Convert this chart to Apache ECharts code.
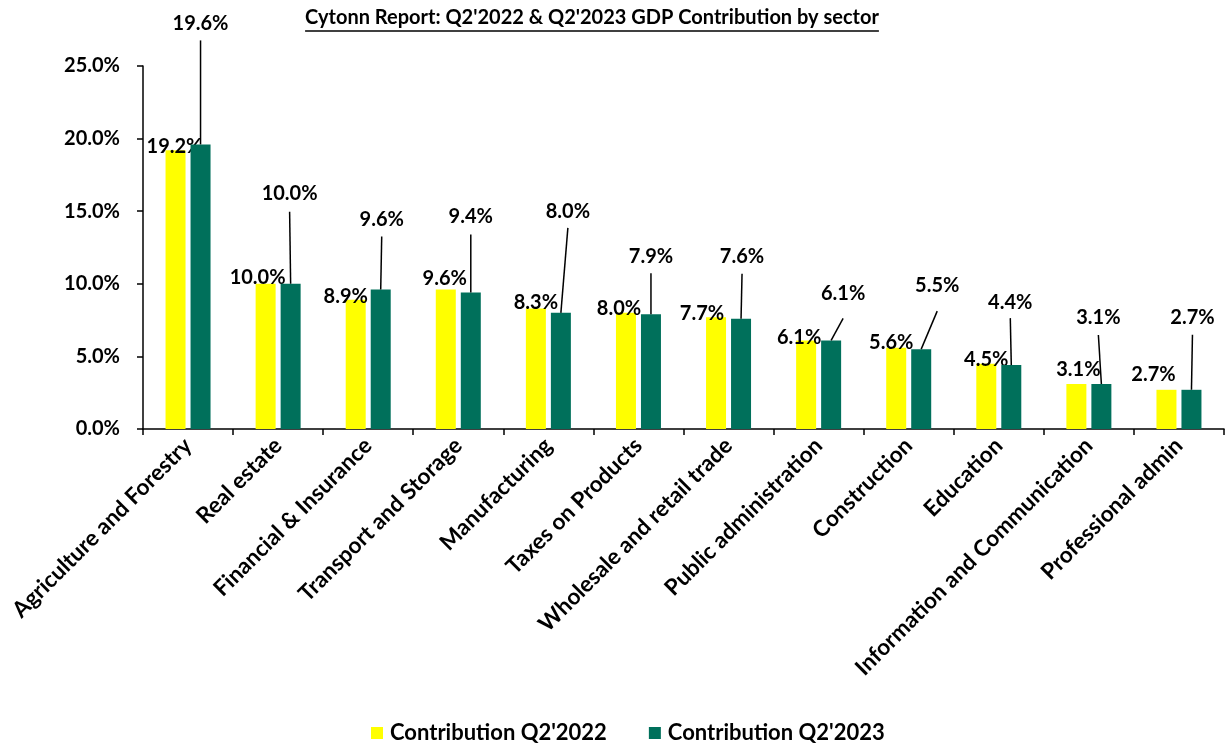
<!DOCTYPE html>
<html>
<head>
<meta charset="utf-8">
<script src="https://cdn.jsdelivr.net/npm/echarts@6/dist/echarts.min.js"></script>
<style>
  html, body { margin: 0; padding: 0; background: #fff; }
  #chart { width: 1230px; height: 745px; }
</style>
</head>
<body>
<div id="chart"></div>
<script>
// ---------- data ----------
const categories = [
  'Agriculture and Forestry', 'Real estate', 'Financial & Insurance', 'Transport and Storage',
  'Manufacturing', 'Taxes on Products', 'Wholesale and retail trade', 'Public administration',
  'Construction', 'Education', 'Information and Communication', 'Professional admin'
];
const seriesNames = ["Contribution Q2'2022", "Contribution Q2'2023"];
const values2022 = [19.2, 10.0, 8.9, 9.6, 8.3, 8.0, 7.7, 6.1, 5.6, 4.5, 3.1, 2.7];
const values2023 = [19.6, 10.0, 9.6, 9.4, 8.0, 7.9, 7.6, 6.1, 5.5, 4.4, 3.1, 2.7];
const yTicks = { min: 0, max: 25, interval: 5 };
const titleText = "Cytonn Report: Q2'2022 & Q2'2023 GDP Contribution by sector";

// ---------- label placement (style, relative to each bar top-centre) ----------
const lbl2022 = [[-1,-4],[-8,-6],[-10,-3],[-1,-11],[0,-6],[-7,-4],[-14,-4],[-7,-3],[-5,-5],[0,-4],[2,-14],[-13,-15]];
const lbl2023 = [[0,-121],[-1,-90],[1,-70],[0,-76],[7,-101],[0,-58],[1,-62],[12,-47],[16,-64],[-1,-63],[-3,-66],[1,-72]];
const lineStart2023 = [17,18,17,18,16,17,17,25,26,16,17,17];

const FONT = 'Lato';
const BAR_W = 20;
const BAR_GAP = 0.25;
const chart = echarts.init(document.getElementById('chart'), null, { renderer: 'canvas' });

function measure(text, font) {
  const c = document.createElement('canvas').getContext('2d');
  c.font = font;
  return c.measureText(text).width;
}
const titleSize = 20;
const titleW = measure(titleText, 'bold ' + titleSize + 'px ' + FONT);
const titleX = 592;

function layoutFor(offsets) {
  return function (p) {
    const i = p.dataIndex;
    const cx = p.rect.x + p.rect.width / 2;
    const top = p.rect.y;
    return { x: cx + offsets[i][0], y: top + offsets[i][1], align: 'center', verticalAlign: 'middle' };
  };
}

const labelStyle = {
  show: true,
  position: 'top',
  distance: 0,
  fontFamily: FONT,
  fontWeight: 'bold',
  fontSize: 20,
  lineHeight: 20,
  color: '#000',
  formatter: p => p.value.toFixed(1) + '%'
};

chart.setOption({
  animation: false,
  backgroundColor: '#fff',
  graphic: [
    {
      type: 'text', left: titleX - titleW / 2, top: 8, z: 10,
      style: { text: titleText, fontFamily: FONT, fontWeight: 'bold', fontSize: titleSize, fill: '#000' }
    },
    {
      type: 'line', z: 10,
      shape: { x1: titleX - titleW / 2, y1: 31, x2: titleX + titleW / 2, y2: 31 },
      style: { stroke: '#000', lineWidth: 1.5 }
    }
  ],
  legend: {
    data: seriesNames,
    top: 722,
    left: 371,
    padding: 0,
    itemWidth: 12,
    itemHeight: 12,
    itemGap: 42,
    icon: 'rect',
    textStyle: { fontFamily: FONT, fontWeight: 'bold', fontSize: 22, lineHeight: 22, color: '#000', padding: [0, 0, 0, 2] }
  },
  grid: { left: 143, right: 6, top: 66, bottom: 316, containLabel: false },
  xAxis: {
    type: 'category',
    data: categories,
    axisLine: { lineStyle: { color: '#000', width: 1.5 } },
    axisTick: { show: true, alignWithLabel: false, length: 6, lineStyle: { color: '#000', width: 1.5 } },
    axisLabel: {
      interval: 0, rotate: 45, margin: 13,
      fontFamily: FONT, fontWeight: 'bold', fontSize: 22.5, color: '#000'
    },
    splitLine: { show: false }
  },
  yAxis: {
    type: 'value',
    min: yTicks.min, max: yTicks.max, interval: yTicks.interval,
    axisLine: { show: true, lineStyle: { color: '#000', width: 1.5 } },
    axisTick: { show: true, length: 6, lineStyle: { color: '#000', width: 1.5 } },
    axisLabel: {
      margin: 23,
      fontFamily: FONT, fontWeight: 'bold', fontSize: 20, color: '#000',
      formatter: v => v.toFixed(1) + '%'
    },
    splitLine: { show: false }
  },
  series: [
    {
      name: seriesNames[0], type: 'bar', data: values2022,
      barWidth: BAR_W, barGap: (BAR_GAP * 100) + '%',
      itemStyle: { color: '#FFFF00' },
      label: labelStyle,
      labelLayout: layoutFor(lbl2022),
      z: 2
    },
    {
      name: seriesNames[1], type: 'bar', data: values2023,
      barWidth: BAR_W, barGap: (BAR_GAP * 100) + '%',
      itemStyle: { color: '#00705B' },
      label: labelStyle,
      labelLayout: layoutFor(lbl2023),
      z: 3
    },
    {
      // leader lines from the 2023 labels down to their bars
      name: 'leaders', type: 'custom', silent: true, z: 4,
      data: values2023.map((v, i) => [i, v]),
      renderItem: function (params, api) {
        const i = api.value(0);
        const pt = api.coord([i, api.value(1)]);
        const cx = pt[0] + BAR_W * (1 + BAR_GAP) / 2;
        const top = pt[1];
        const lx = cx + lbl2023[i][0];
        const ly = top + lbl2023[i][1] + lineStart2023[i];
        return {
          type: 'line',
          shape: { x1: lx, y1: ly, x2: cx, y2: top },
          style: { stroke: '#000', lineWidth: 1.5 }
        };
      }
    }
  ]
});
</script>
</body>
</html>
